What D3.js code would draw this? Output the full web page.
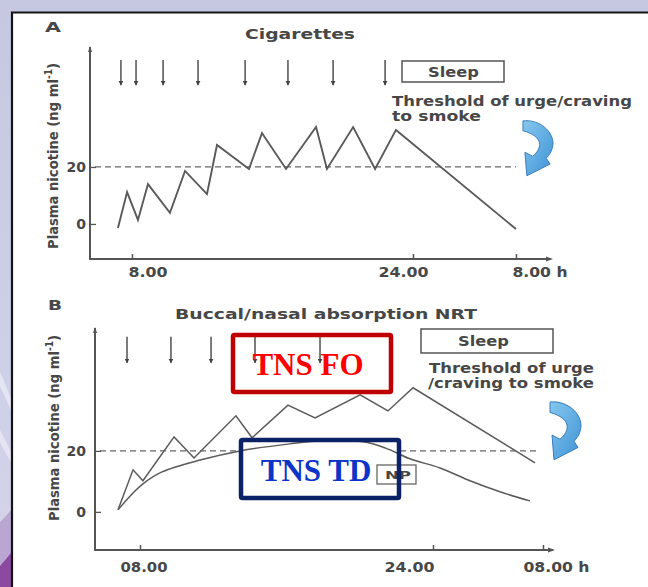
<!DOCTYPE html>
<html><head><meta charset="utf-8">
<script src="https://cdn.jsdelivr.net/npm/d3@7"></script>
<style>
html,body{margin:0;padding:0;background:#c9cce2;}
svg{display:block;}
</style></head><body>
<svg id="chart" width="648" height="587"></svg>
<script>
// ---------------- data ----------------
const tickHours = [8, 24, 32];
const tickLabelsA = ["8.00", "24.00", "8.00 h"];
const tickLabelsB = ["08.00", "24.00", "08.00 h"];
const yTickValues = [0, 20];
const thresholdLevel = 20;

const cigHours    = [7.2, 7.72, 8.34, 8.91, 10.16, 11.02, 12.27, 12.84, 14.66, 15.40, 16.77, 18.48, 19.1, 20.59, 21.84, 23.03, 32];
const cigNicotine = [-1.4, 11.2, 1.4, 14, 3.9, 18.6, 10.5, 27.7, 19.3, 31.9, 19.3, 34, 19.3, 34, 19.3, 33, -1.8];
const cigDoseHours = [7.37, 8.23, 9.77, 11.76, 14.44, 16.88, 19.45, 22.41];

const foHours    = [6.8, 7.62, 8.16, 9.86, 10.95, 13.24, 14.12, 16.08, 17.56, 20.02, 21.54, 22.91, 31.42];
const foNicotine = [0.7, 13.8, 10.2, 24.6, 17.7, 31.5, 24.3, 35, 30.8, 38.4, 33.1, 40.7, 16.1];
const tdHours    = [6.8, 7.62, 8.16, 9.2, 11.28, 13.46, 16.19, 17.99, 20.18, 21.38, 22.74, 24.51, 26.69, 28.87, 31.05];
const tdNicotine = [0.7, 6.2, 9.2, 13.1, 17, 20, 22.3, 23.3, 23, 21, 17.4, 14.4, 10.2, 6.6, 3.6];
const foDoseHours = [7.29, 9.69, 11.88, 14.28, 17.83];

const titleA = "Cigarettes";
const titleB = "Buccal/nasal absorption NRT";
const yLabelMain = "Plasma nicotine (ng ml";
const yLabelSup = "-1";
const sleepLabel = "Sleep";
const thresholdTextA = ["Threshold of urge/craving", "to smoke"];
const thresholdTextB = ["Threshold of urge", "/craving to smoke"];
const labelFO = "TNS FO";
const labelTD = "TNS TD";
const labelNP = "NP";

// ---------------- setup ----------------
const W = 648, H = 587;
const svg = d3.select("#chart");
const defs = svg.append("defs");
const INK = "#474747";
const LINE = "#555";
const FONT = "DejaVu Sans";

const bg = defs.append("linearGradient").attr("id", "bg").attr("x1", 0).attr("y1", 0).attr("x2", 0).attr("y2", 1);
bg.append("stop").attr("offset", "0%").attr("stop-color", "#c5c8e0");
bg.append("stop").attr("offset", "70%").attr("stop-color", "#cfd1e8");
bg.append("stop").attr("offset", "100%").attr("stop-color", "#d6d3ea");

const blueGrad = defs.append("linearGradient").attr("id", "blueArrow").attr("x1", 0).attr("y1", 0).attr("x2", 1).attr("y2", 1);
blueGrad.append("stop").attr("offset", "0%").attr("stop-color", "#86c8ef");
blueGrad.append("stop").attr("offset", "100%").attr("stop-color", "#3f93d6");

defs.append("marker").attr("id", "dose").attr("viewBox", "0 0 6 6")
  .attr("refX", 5).attr("refY", 3).attr("markerWidth", 5).attr("markerHeight", 5)
  .attr("markerUnits", "userSpaceOnUse").attr("orient", "auto")
  .append("path").attr("d", "M0,0 L6,3 L0,6 Z").attr("fill", "#444");

// background & left decoration
svg.append("rect").attr("width", W).attr("height", H).attr("fill", "url(#bg)");
svg.append("path").attr("d", "M0,372 C4,380 8,392 11,398 L11,410 C7,402 3,392 0,386 Z").attr("fill", "#e4e4f2");
svg.append("path").attr("d", "M0,430 C4,438 8,446 11,452 L11,462 C7,456 3,448 0,442 Z").attr("fill", "#e6e3f2");
svg.append("path").attr("d", "M0,522 C4,518 8,514 11,510 L11,587 L0,587 Z").attr("fill", "#b9a6d2");
svg.append("path").attr("d", "M0,566 C4,561 8,557 11,553 L11,587 L0,587 Z").attr("fill", "#8b4aa0");

// white panel with black border
svg.append("rect").attr("x", 12).attr("y", 12).attr("width", W - 12).attr("height", H - 12).attr("fill", "#ffffff");
svg.append("path").attr("d", `M12,${H} V12.5 H${W}`).attr("fill", "none").attr("stroke", "#141414").attr("stroke-width", 2.2);

function txt(g, s, x, y, o = {}) {
  const t = g.append("text").attr("x", x).attr("y", y).text(s)
    .attr("font-family", o.family || FONT)
    .attr("font-weight", o.weight || "bold")
    .attr("font-size", o.size || 13)
    .attr("fill", o.fill || INK);
  if (o.len) t.attr("textLength", o.len).attr("lengthAdjust", "spacingAndGlyphs");
  if (o.anchor) t.attr("text-anchor", o.anchor);
  return t;
}

const curvedArrowPath = "M2,4 C16,2 32,12 33,26 C33,33 30,38 26,42 L30,48 L6,60 L4,36 L12,40 C22,32 24,20 2,14 Z";

function drawPanel(c) {
  const g = svg.append("g");
  const x = c.x, y = c.y;

  // letter & title
  txt(g, c.letter, c.letterPos[0], c.letterPos[1], { size: 14, len: c.letterLen });
  txt(g, c.title, c.titlePos[0], c.titlePos[1], { size: 14, len: c.titleLen });

  // y label
  const yl = g.append("text").attr("transform", `translate(${c.yLabelPos[0]},${c.yLabelPos[1]}) rotate(-90)`)
    .attr("text-anchor", "middle").attr("font-family", FONT).attr("font-weight", "bold")
    .attr("font-size", 14.5).attr("fill", INK)
    .attr("textLength", 186).attr("lengthAdjust", "spacingAndGlyphs");
  yl.append("tspan").text(yLabelMain);
  yl.append("tspan").text(yLabelSup).attr("font-size", 10).attr("dy", -6);
  yl.append("tspan").text(")").attr("dy", 6);

  // threshold dashed line
  g.append("line").attr("x1", c.left + 5).attr("x2", c.dashEnd)
    .attr("y1", y(thresholdLevel)).attr("y2", y(thresholdLevel))
    .attr("stroke", "#666").attr("stroke-width", 1.2).attr("stroke-dasharray", "6,4");

  // axes lines
  g.append("path").attr("d", `M${c.left},${c.top} V${c.bottom} H${c.right}`)
    .attr("fill", "none").attr("stroke", LINE).attr("stroke-width", 2);
  g.append("path").attr("d", `M${c.left - 2},${c.top + 5} L${c.left},${c.top - 1} L${c.left + 2},${c.top + 5} Z`).attr("fill", LINE);
  g.append("path").attr("d", `M${c.right - 5},${c.bottom - 2.5} L${c.right + 2},${c.bottom} L${c.right - 5},${c.bottom + 2.5} Z`).attr("fill", LINE);

  // y axis ticks
  const ya = g.append("g").attr("transform", `translate(${c.left},0)`)
    .call(d3.axisLeft(y).tickValues(yTickValues).tickSizeInner(-6).tickSizeOuter(0).tickPadding(c.left - 86).tickFormat(d3.format("d")));
  ya.select(".domain").remove();
  ya.selectAll("line").attr("stroke", LINE).attr("stroke-width", 1.3);
  ya.selectAll("text").attr("font-family", FONT).attr("font-weight", "bold").attr("font-size", 14).attr("fill", INK);

  // x axis ticks
  const xa = g.append("g").attr("transform", `translate(0,${c.bottom})`)
    .call(d3.axisBottom(x).tickValues(tickHours).tickSizeInner(-5).tickSizeOuter(0).tickPadding(c.xPad).tickFormat((d, i) => c.tickLabels[i]));
  xa.select(".domain").remove();
  xa.selectAll("line").attr("stroke", LINE).attr("stroke-width", 1.5);
  xa.selectAll("text").attr("font-family", FONT).attr("font-weight", "bold").attr("font-size", 14).attr("fill", INK)
    .attr("text-anchor", "start")
    .attr("x", (d, i) => c.tickLabelStart[i] - x(d))
    .attr("textLength", (d, i) => c.tickLabelLen[i]).attr("lengthAdjust", "spacingAndGlyphs");

  // dose arrows
  g.selectAll(".dose").data(c.doses).join("line").attr("class", "dose")
    .attr("x1", d => x(d)).attr("x2", d => x(d))
    .attr("y1", y(c.doseTop)).attr("y2", y(c.doseBottom))
    .attr("stroke", "#444").attr("stroke-width", 1.4).attr("marker-end", "url(#dose)");

  // sleep box
  g.append("rect").attr("x", c.sleepBox[0]).attr("y", c.sleepBox[1]).attr("width", c.sleepBox[2]).attr("height", c.sleepBox[3])
    .attr("fill", "#fff").attr("stroke", "#555").attr("stroke-width", 1.5);
  txt(g, sleepLabel, c.sleepText[0], c.sleepText[1], { size: 14, len: 51 });

  // threshold text
  c.thresholdText.forEach((s, i) => txt(g, s, c.thrPos[i][0], c.thrPos[i][1], { size: 13.5, len: c.thrLen[i] }));

  // curved blue arrow
  g.append("path").attr("d", curvedArrowPath)
    .attr("transform", `translate(${c.blueArrow[0]},${c.blueArrow[1]}) scale(${c.blueArrow[2]},${c.blueArrow[3]})`)
    .attr("fill", "url(#blueArrow)").attr("stroke", "#2d72b5").attr("stroke-width", 0.9);

  return g;
}

// ---------------- panel A ----------------
const xA = d3.scaleLinear().domain(tickHours).range([132, 413, 516]);
const yA = d3.scaleLinear().domain([-12.3, 62.1]).range([259, 47]);
const gA = drawPanel({
  x: xA, y: yA, left: 90, right: 551, top: 47, bottom: 259, dashEnd: 516,
  letter: "A", letterPos: [45, 32], letterLen: 16,
  title: titleA, titlePos: [245, 39], titleLen: 110,
  yLabelPos: [58, 156],
  tickLabels: tickLabelsA, tickLabelStart: [128, 378, 512], tickLabelLen: [39, 50, 55], xPad: 8,
  doses: cigDoseHours, doseTop: 57.5, doseBottom: 48.8,
  sleepBox: [402, 61, 102, 21], sleepText: [428, 77],
  thresholdText: thresholdTextA, thrPos: [[392, 106], [392, 121]], thrLen: [240, 89],
  blueArrow: [521, 117, 0.97, 0.98]
});
const lineA = d3.line().x(d => xA(d[0])).y(d => yA(d[1]));
gA.append("path").attr("d", lineA(d3.zip(cigHours, cigNicotine)))
  .attr("fill", "none").attr("stroke", "#5a5a5a").attr("stroke-width", 1.9).attr("stroke-linejoin", "miter");

// ---------------- panel B ----------------
const xB = d3.scaleLinear().domain(tickHours).range([140, 433, 543]);
const yB = d3.scaleLinear().domain([-12.5, 60.3]).range([550, 328]);
const gB = drawPanel({
  x: xB, y: yB, left: 95, right: 553, top: 328, bottom: 550, dashEnd: 537,
  letter: "B", letterPos: [48, 310], letterLen: 14,
  title: titleB, titlePos: [175, 319], titleLen: 302,
  yLabelPos: [59, 428],
  tickLabels: tickLabelsB, tickLabelStart: [120, 384, 523], tickLabelLen: [47, 50, 66], xPad: 12,
  doses: foDoseHours, doseTop: 57.4, doseBottom: 48.9,
  sleepBox: [421, 329, 132, 24], sleepText: [458, 346],
  thresholdText: thresholdTextB, thrPos: [[429, 373], [428, 388]], thrLen: [165, 166],
  blueArrow: [548, 398, 1.0, 1.03]
});

// blue box white fill (hides dashed line)
const tdBox = [239, 438, 162, 62];
gB.append("rect").attr("x", tdBox[0]).attr("y", tdBox[1]).attr("width", tdBox[2]).attr("height", tdBox[3]).attr("fill", "#fff");

// NP box
gB.append("rect").attr("x", 377).attr("y", 465).attr("width", 39).attr("height", 19)
  .attr("fill", "#fff").attr("stroke", "#666").attr("stroke-width", 1.3);
txt(gB, labelNP, 385, 479, { size: 11, len: 26 });

const lineB = d3.line().x(d => xB(d[0])).y(d => yB(d[1]));
gB.append("path").attr("d", lineB(d3.zip(foHours, foNicotine)))
  .attr("fill", "none").attr("stroke", "#5a5a5a").attr("stroke-width", 1.5);
gB.append("path").attr("d", lineB.curve(d3.curveCatmullRom.alpha(0.5))(d3.zip(tdHours, tdNicotine)))
  .attr("fill", "none").attr("stroke", "#5a5a5a").attr("stroke-width", 1.5);

// red box
gB.append("rect").attr("x", 233).attr("y", 335).attr("width", 158).attr("height", 57)
  .attr("fill", "none").attr("stroke", "#c00000").attr("stroke-width", 4.5).attr("rx", 1.5);
txt(gB, labelFO, 308, 375, { family: "Liberation Serif", size: 31, fill: "#ff0000", anchor: "middle" });

// blue box stroke
gB.append("rect").attr("x", tdBox[0] + 2).attr("y", tdBox[1] + 2).attr("width", tdBox[2] - 4).attr("height", tdBox[3] - 4)
  .attr("fill", "none").attr("stroke", "#0b2366").attr("stroke-width", 4.5).attr("rx", 1.5);
txt(gB, labelTD, 316, 481, { family: "Liberation Serif", size: 31, fill: "#0a35c8", anchor: "middle" });
</script>
</body></html>
